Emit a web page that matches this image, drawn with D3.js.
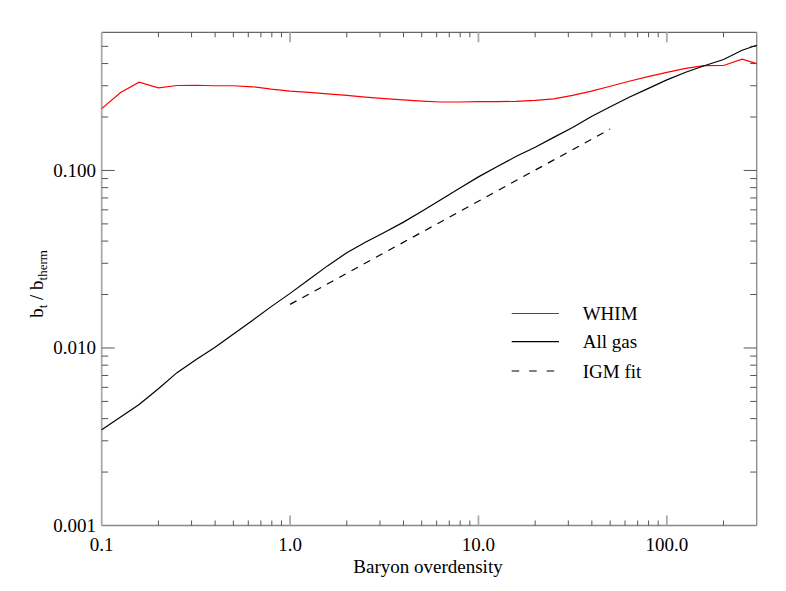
<!DOCTYPE html>
<html><head><meta charset="utf-8">
<script src="https://cdn.jsdelivr.net/npm/d3@7/dist/d3.min.js"></script>
<style>body{margin:0;background:#fff;} svg{display:block;}</style>
</head><body>
<svg id="c" width="786" height="591"></svg>
<script>
// Baryon overdensity grid (0.1 dex steps)
const overdensity = [0.1,0.126,0.158,0.2,0.251,0.316,0.398,0.501,0.631,0.794,1.0,1.26,1.58,2.0,2.51,3.16,3.98,5.01,6.31,7.94,10.0,12.6,15.8,20.0,25.1,31.6,39.8,50.1,63.1,79.4,100,126,158,200,251,300];
const whim = [0.223,0.275,0.314,0.292,0.301,0.302,0.300,0.300,0.296,0.287,0.280,0.275,0.270,0.265,0.259,0.254,0.250,0.246,0.243,0.243,0.244,0.244,0.245,0.248,0.253,0.265,0.280,0.298,0.318,0.338,0.357,0.376,0.389,0.390,0.423,0.400];
const allGas = [0.00346,0.00408,0.00481,0.00589,0.00726,0.00859,0.01007,0.0120,0.0143,0.0171,0.0203,0.0243,0.0290,0.0344,0.0394,0.0447,0.0510,0.0589,0.0684,0.0794,0.0920,0.1052,0.1197,0.1352,0.1535,0.1746,0.2014,0.2286,0.2582,0.2891,0.3236,0.3573,0.3890,0.4217,0.4753,0.5070];
const fitX = [1.0, 50.0];
const fitY = [0.0176, 0.171];
const xTickValues = [0.1, 1.0, 10.0, 100.0];
const xTickLabels = ["0.1", "1.0", "10.0", "100.0"];
const yTickValues = [0.001, 0.01, 0.1];
const yTickLabels = ["0.001", "0.010", "0.100"];
const legendNames = ["WHIM", "All gas", "IGM fit"];

const FONT = "'Liberation Serif', 'DejaVu Serif', serif";
const L = 101.7, R = 756.7, T = 32.3, B = 525.5;
const svg = d3.select("#c").attr("font-family", FONT);
const x = d3.scaleLog().domain([0.1, 300]).range([L, R]);
const y = d3.scaleLog().domain([0.001, 0.6]).range([B, T]);

const xMinor = [];
for (let d = 0.1; d < 300; d *= 10) for (let k = 2; k <= 9; k++) { const v = d * k; if (v < 300) xMinor.push(v); }
const yMinor = [];
for (let d = 0.001; d < 0.6; d *= 10) for (let k = 2; k <= 9; k++) { const v = d * k; if (v <= 0.6) yMinor.push(v); }

const g = svg.append("g");
g.append("line").attr("x1", L).attr("x2", R).attr("y1", T).attr("y2", T).attr("stroke", "#444").attr("stroke-width", 1);
g.append("line").attr("x1", L).attr("x2", R).attr("y1", B).attr("y2", B).attr("stroke", "#888").attr("stroke-width", 1.3);
g.append("line").attr("x1", L).attr("x2", L).attr("y1", T).attr("y2", B).attr("stroke", "#aaa").attr("stroke-width", 1.8);
g.append("line").attr("x1", R).attr("x2", R).attr("y1", T).attr("y2", B).attr("stroke", "#888").attr("stroke-width", 1.3);

const xMajLen = 10, xMinLen = 5, yMajLen = 13, yMinLen = 6.5;
[B, T].forEach((yy, i) => {
  const dir = i === 0 ? -1 : 1;
  g.selectAll(null).data(xMinor).enter().append("line")
    .attr("x1", d => x(d)).attr("x2", d => x(d)).attr("y1", yy).attr("y2", yy + dir * xMinLen)
    .attr("stroke", "#555").attr("stroke-width", 1);
  g.selectAll(null).data(xTickValues.slice(1)).enter().append("line")
    .attr("x1", d => x(d)).attr("x2", d => x(d)).attr("y1", yy).attr("y2", yy + dir * xMajLen)
    .attr("stroke", "#aaa").attr("stroke-width", 1.8);
});
[L, R].forEach((xx, i) => {
  const dir = i === 0 ? 1 : -1;
  g.selectAll(null).data(yMinor).enter().append("line")
    .attr("y1", d => y(d)).attr("y2", d => y(d)).attr("x1", xx).attr("x2", xx + dir * yMinLen)
    .attr("stroke", "#555").attr("stroke-width", 1);
  g.selectAll(null).data(yTickValues.slice(1)).enter().append("line")
    .attr("y1", d => y(d)).attr("y2", d => y(d)).attr("x1", xx).attr("x2", xx + dir * yMajLen)
    .attr("stroke", "#555").attr("stroke-width", 1);
});

g.selectAll(null).data(xTickValues).enter().append("text")
  .attr("x", d => x(d)).attr("y", 551).attr("text-anchor", "middle")
  .attr("font-size", 19).attr("fill", "#000").text((d, i) => xTickLabels[i]);
g.selectAll(null).data(yTickValues).enter().append("text")
  .attr("x", 96).attr("y", d => y(d) + 6.5).attr("text-anchor", "end")
  .attr("font-size", 19).attr("fill", "#000").text((d, i) => yTickLabels[i]);

svg.append("text").attr("x", 428).attr("y", 573).attr("text-anchor", "middle")
  .attr("font-size", 19).text("Baryon overdensity");
const yt = svg.append("text").attr("transform", "translate(43,284) rotate(-90)").attr("text-anchor", "middle").attr("font-size", 19);
yt.append("tspan").text("b");
yt.append("tspan").attr("font-size", 13).attr("dy", 4).text("t");
yt.append("tspan").attr("dy", -4).text(" / b");
yt.append("tspan").attr("font-size", 13).attr("dy", 4).text("therm");

const line = d3.line().x(d => x(d[0])).y(d => y(d[1]));
svg.append("path").datum(overdensity.map((v, i) => [v, whim[i]])).attr("d", line)
  .attr("fill", "none").attr("stroke", "#ff0000").attr("stroke-width", 1.2);
svg.append("path").datum(overdensity.map((v, i) => [v, allGas[i]])).attr("d", line)
  .attr("fill", "none").attr("stroke", "#000").attr("stroke-width", 1.2);
svg.append("path").datum(fitX.map((v, i) => [v, fitY[i]])).attr("d", line)
  .attr("fill", "none").attr("stroke", "#000").attr("stroke-width", 1.2).attr("stroke-dasharray", "7.3,6.7");

const legY = [313.5, 341.7, 371];
const legStyle = [{c: "#ff0000", d: null}, {c: "#000", d: null}, {c: "#000", d: "7.5,10"}];
legendNames.forEach((n, i) => {
  const l = svg.append("line").attr("x1", 511.7).attr("x2", 559).attr("y1", legY[i]).attr("y2", legY[i])
    .attr("stroke", legStyle[i].c).attr("stroke-width", 1.2);
  if (legStyle[i].d) l.attr("stroke-dasharray", legStyle[i].d);
  svg.append("text").attr("x", 582.7).attr("y", legY[i] + 6.5).attr("font-size", 19).text(n);
});
</script>
</body></html>
